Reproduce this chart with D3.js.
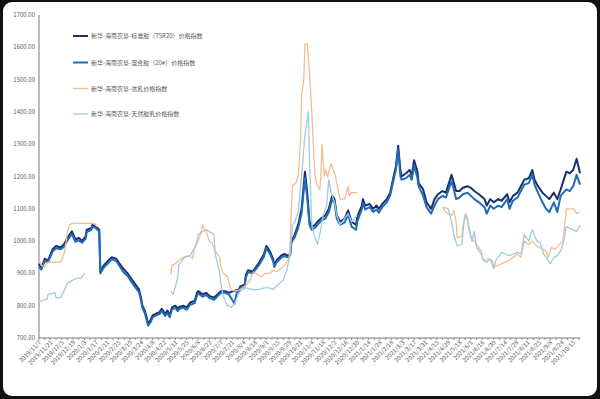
<!DOCTYPE html>
<html>
<head>
<meta charset="utf-8">
<script src="https://d3js.org/d3.v7.min.js"></script>
<style>
  html, body { margin: 0; padding: 0; background: #111; }
  svg { display: block; }
  text { font-family: "Noto Sans CJK SC", "Noto Sans", sans-serif; fill: #595959; }
</style>
</head>
<body>
<div id="chart"></div>
<script>
// tick labels, one every 10 trading days
const xLabels = ["2019/11/7","2019/11/21","2019/12/5","2019/12/19","2020/1/3","2020/1/17","2020/2/11","2020/2/25",
  "2020/3/10","2020/3/24","2020/4/8","2020/4/22","2020/5/11","2020/5/25","2020/6/8","2020/6/22","2020/7/7",
  "2020/7/21","2020/8/4","2020/8/18","2020/9/1","2020/9/15","2020/9/29","2020/10/21","2020/11/4","2020/11/18",
  "2020/12/2","2020/12/16","2020/12/30","2021/1/14","2021/1/28","2021/2/18","2021/3/3","2021/3/17","2021/3/31",
  "2021/4/15","2021/4/29","2021/5/18","2021/6/1","2021/6/16","2021/6/30","2021/7/14","2021/7/28","2021/8/11",
  "2021/8/25","2021/9/8","2021/9/24","2021/10/15"];
const yTicks = [700, 800, 900, 1000, 1100, 1200, 1300, 1400, 1500, 1600, 1700];
const lastDay = 476;

const seriesNames = ["新华-海南农垦-标准胶（TSR20）价格指数", "新华-海南农垦-混合胶（20#）价格指数",
  "新华-海南农垦-浓乳价格指数", "新华-海南农垦-天然胶乳价格指数"];

// [trading day, index value]; null marks a gap
const tsr20 = [[0,930],[2,915],[5,945],[8,940],[12,975],[15,985],[19,980],[22,990],[25,1010],[27,1020],[29,1030],
  [32,1005],[35,1010],[38,1000],[41,1015],[42,1035],[46,1040],[47,1050],[50,1045],[53,1035],[54,905],[57,925],
  [61,940],[64,950],[68,945],[71,930],[74,915],[78,900],[81,885],[84,870],[88,850],[90,820],[91,800],[93,785],
  [95,760],[96,742],[98,755],[100,770],[103,775],[106,780],[108,790],[111,775],[113,785],[115,770],[117,795],
  [120,800],[122,790],[123,795],[127,800],[130,795],[133,810],[137,815],[139,840],[140,845],[144,835],[147,840],
  [150,830],[154,825],[157,835],[160,845],[164,845],[167,840],[171,845],[176,850],[177,860],[181,865],[182,895],
  [184,910],[188,905],[189,910],[191,920],[194,935],[198,960],[200,985],[203,970],[206,945],[207,925],[209,940],
  [213,955],[216,960],[219,955],[221,960],[222,1000],[225,1020],[228,1050],[231,1100],[234,1215],[236,1150],
  [238,1060],[240,1045],[243,1050],[245,1060],[248,1070],[252,1080],[255,1100],[258,1140],[260,1130],[262,1080],
  [265,1060],[269,1070],[272,1095],[275,1060],[279,1050],[280,1075],[284,1110],[285,1130],[287,1110],[291,1115],
  [294,1100],[297,1110],[299,1100],[302,1115],[306,1130],[309,1150],[312,1200],[314,1230],[316,1295],[318,1220],
  [319,1200],[323,1210],[326,1220],[328,1205],[330,1250],[333,1215],[334,1180],[338,1160],[341,1120],[345,1100],
  [348,1130],[351,1145],[355,1155],[358,1150],[363,1205],[365,1180],[367,1155],[370,1155],[373,1165],[377,1170],
  [380,1165],[383,1155],[387,1145],[392,1130],[394,1110],[397,1130],[400,1120],[404,1130],[407,1125],[412,1145],
  [414,1120],[417,1140],[421,1150],[424,1170],[427,1190],[431,1195],[434,1220],[436,1190],[439,1170],[443,1150],
  [446,1140],[449,1130],[453,1150],[456,1130],[459,1160],[464,1215],[467,1210],[470,1220],[473,1255],[476,1210]];

const mix20 = [[0,920],[2,912],[5,938],[8,935],[12,968],[15,978],[19,975],[22,982],[25,1002],[27,1012],[29,1022],
  [32,998],[35,1003],[38,995],[41,1008],[42,1028],[46,1035],[47,1045],[50,1040],[53,1030],[54,900],[57,918],
  [61,932],[64,944],[68,938],[71,922],[74,905],[78,892],[81,876],[84,860],[88,842],[90,812],[91,793],[93,778],
  [95,752],[96,738],[98,748],[100,764],[103,770],[106,774],[108,784],[111,768],[113,778],[115,764],[117,788],
  [120,793],[122,783],[123,789],[127,794],[130,788],[133,803],[137,808],[139,832],[140,838],[144,828],[147,833],
  [150,824],[154,818],[157,829],[160,840],[164,840],[167,835],[171,812],[172,806],[174,840],[176,845],[177,855],
  [181,860],[182,888],[184,904],[188,900],[189,905],[191,914],[194,928],[198,952],[200,978],[203,962],[206,938],
  [207,920],[209,934],[213,948],[216,954],[219,950],[221,956],[222,995],[225,1012],[228,1040],[231,1085],
  [234,1195],[236,1135],[238,1050],[240,1035],[243,1042],[245,1050],[248,1062],[252,1070],[255,1090],[258,1130],
  [260,1120],[262,1070],[265,1050],[269,1058],[272,1082],[275,1045],[279,1035],[280,1060],[284,1098],[285,1118],
  [287,1098],[291,1105],[294,1090],[297,1098],[299,1088],[302,1105],[306,1120],[309,1142],[312,1190],[314,1220],
  [316,1285],[318,1200],[319,1190],[323,1195],[326,1205],[328,1190],[330,1235],[333,1195],[334,1170],[338,1140],
  [341,1105],[345,1085],[348,1110],[351,1130],[355,1140],[358,1135],[363,1185],[365,1160],[367,1130],[370,1135],
  [373,1145],[377,1150],[380,1140],[383,1130],[387,1120],[392,1105],[394,1085],[397,1110],[400,1100],[404,1110],
  [407,1105],[412,1130],[414,1100],[417,1125],[421,1135],[424,1155],[427,1175],[431,1180],[434,1205],[436,1175],
  [439,1150],[443,1120],[446,1100],[449,1090],[453,1120],[456,1090],[459,1140],[464,1160],[467,1155],[470,1170],
  [473,1205],[476,1175]];

const conc = [[0,940],[2,925],[5,920],[7,930],[8,935],[19,935],[22,960],[24,1000],[25,1030],[27,1050],[29,1055],
  [49,1055],[51,1045],[52,null],
  [116,895],[117,925],[120,930],[123,940],[127,950],[132,955],[135,945],[137,980],[140,1000],[142,1020],[144,1050],
  [145,1040],[147,1030],[150,1000],[152,995],[155,970],[159,950],[160,920],[162,900],[166,890],[167,870],[169,850],
  [172,845],[177,850],[181,860],[184,870],[188,900],[189,905],[193,895],[196,890],[199,900],[203,900],[206,910],
  [209,905],[213,915],[216,925],[220,945],[221,1000],[223,1170],[226,1180],[228,1200],[230,1300],[231,1450],
  [233,1500],[234,1610],[236,1610],[238,1520],[240,1400],[242,1250],[243,1200],[245,1170],[247,1160],[248,1200],
  [249,1300],[251,1200],[252,1220],[254,1200],[257,1240],[259,1220],[261,1200],[263,1160],[265,1130],[269,1130],
  [272,1170],[273,1140],[275,1150],[280,1150],[281,null],
  [355,1105],[358,1090],[360,1085],[363,1080],[365,1095],[367,1060],[368,1010],[372,1015],[373,1045],[375,1085],
  [377,1070],[378,1040],[380,1010],[383,1000],[385,990],[389,970],[390,950],[392,940],[395,945],[399,940],
  [400,920],[404,925],[407,930],[410,935],[414,940],[417,950],[421,960],[424,950],[427,1000],[431,990],[434,1000],
  [438,985],[443,975],[446,970],[448,950],[451,980],[454,975],[458,990],[461,1000],[464,1100],[470,1100],
  [473,1085],[476,1090]];

const latex = [[0,815],[2,815],[7,820],[8,835],[14,840],[15,825],[19,825],[22,845],[25,870],[30,880],[34,885],
  [37,885],[40,900],[41,null],
  [116,845],[118,835],[120,860],[122,885],[123,925],[125,935],[128,950],[133,955],[137,980],[139,1000],[140,1020],
  [144,1030],[147,1035],[150,1030],[154,1020],[155,960],[157,930],[159,900],[160,870],[162,830],[166,800],
  [169,795],[172,805],[176,840],[179,850],[182,855],[188,850],[193,850],[198,855],[203,855],[206,850],[209,860],
  [215,880],[218,910],[221,960],[223,1050],[225,1060],[228,1090],[231,1200],[234,1330],[237,1400],[238,1250],
  [240,1050],[242,1020],[245,990],[247,1020],[250,1080],[252,1100],[253,1110],[255,1190],[257,1150],[260,1120],
  [262,1080],[265,1050],[269,1070],[272,1085],[275,1060],[280,1080],[281,null],
  [356,1105],[360,1100],[363,1060],[365,1020],[368,985],[372,990],[374,1060],[376,1080],[378,1050],[381,1000],
  [383,1030],[385,980],[389,960],[391,940],[394,935],[397,945],[400,915],[402,940],[404,950],[407,965],[410,960],
  [414,955],[417,960],[421,965],[424,960],[427,1020],[431,1000],[434,1035],[438,1000],[441,995],[444,960],
  [448,940],[450,930],[453,950],[456,955],[459,970],[461,990],[464,1045],[470,1035],[473,1030],[476,1050]];

const W = 600, H = 399;
const svg = d3.select("#chart").append("svg").attr("width", W).attr("height", H);

// card
svg.append("rect").attr("x", 3).attr("y", 2).attr("width", W - 6).attr("height", H - 5)
  .attr("rx", 9).attr("fill", "#fff");

const x = d3.scaleLinear().domain([0, lastDay]).range([39, 580]);
const y = d3.scaleLinear().domain([700, 1700]).range([338, 15]);

// y axis
svg.append("line").attr("x1", x(0)).attr("x2", x(0)).attr("y1", y(1700)).attr("y2", y(700))
  .attr("stroke", "#595959").attr("stroke-width", 0.8);
svg.selectAll(".ylab").data(yTicks).join("text")
  .attr("x", 35).attr("y", d => y(d) + 2)
  .attr("text-anchor", "end").attr("font-size", 6)
  .text(d => d.toFixed(2));

// x axis
svg.append("line").attr("x1", x(0)).attr("x2", x(lastDay)).attr("y1", y(700)).attr("y2", y(700))
  .attr("stroke", "#595959").attr("stroke-width", 0.8);
svg.selectAll(".xtick").data(d3.range(0, lastDay + 1, 5)).join("line")
  .attr("x1", d => x(d)).attr("x2", d => x(d))
  .attr("y1", y(700)).attr("y2", y(700) + 2)
  .attr("stroke", "#595959").attr("stroke-width", 0.6);
svg.selectAll(".xlab").data(xLabels).join("text")
  .attr("text-anchor", "end").attr("font-size", 6)
  .attr("transform", (d, i) => `translate(${x(i * 10) + 2.5},${y(700) + 5}) rotate(-45)`)
  .text(d => d);

// series
const line = d3.line()
  .defined(d => d[1] !== null)
  .x(d => x(d[0])).y(d => y(d[1]));

const series = [
  { data: tsr20, color: "#1a2f6e", width: 2 },
  { data: mix20, color: "#1f6cb5", width: 2 },
  { data: conc, color: "#f7bb90", width: 1.3 },
  { data: latex, color: "#9fcbe0", width: 1.3 }
];

svg.selectAll(".series").data(series).join("path")
  .attr("fill", "none")
  .attr("stroke", d => d.color)
  .attr("stroke-width", d => d.width)
  .attr("stroke-linejoin", "round")
  .attr("d", d => line(d.data));

// legend
const legendY = [36, 62.5, 88.5, 114];
const legend = svg.selectAll(".legend").data(series).join("g")
  .attr("transform", (d, i) => `translate(73,${legendY[i]})`);
legend.append("line").attr("x1", 0).attr("x2", 15)
  .attr("stroke", d => d.color).attr("stroke-width", d => d.width);
legend.append("text").attr("x", 18).attr("y", 2.2).attr("font-size", 6)
  .text((d, i) => seriesNames[i]);
</script>
</body>
</html>
